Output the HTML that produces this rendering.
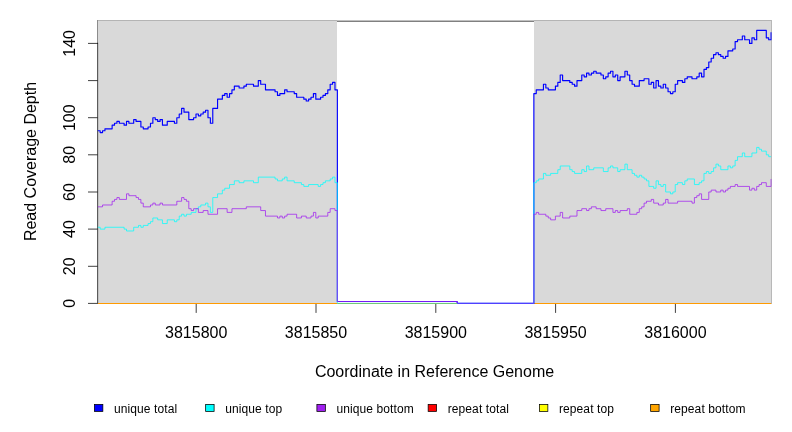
<!DOCTYPE html>
<html><head><meta charset="utf-8">
<style>
html,body{margin:0;padding:0;background:#fff;}
body{width:792px;height:432px;overflow:hidden;font-family:"Liberation Sans",sans-serif;}
svg{display:block;position:absolute;left:0;top:0}
svg.ov{will-change:transform}
text{font-family:"Liberation Sans",sans-serif;fill:#000}
</style></head><body>
<svg width="792" height="432" viewBox="0 0 792 432">
<defs><clipPath id="pc"><rect x="97" y="20" width="674.8" height="284"/></clipPath></defs>
<rect x="0" y="0" width="792" height="432" fill="#fff"/>
<!-- grey backgrounds -->
<rect x="98" y="21" width="239" height="282.4" fill="#d9d9d9"/>
<rect x="534" y="21" width="237" height="282.4" fill="#d9d9d9"/>
<!-- box -->
<rect x="97" y="20" width="675" height="1" fill="#b4b4b4"/>
<rect x="337" y="20" width="197" height="1" fill="#c0c0c0"/>
<rect x="337" y="21" width="197" height="1" fill="#808080"/>
<rect x="771" y="20" width="1" height="284" fill="#b8b8b8"/>
<rect x="97" y="20" width="1" height="24" fill="#8c8c8c"/>
<!-- axes -->
<g stroke="#000" stroke-width="0.75" fill="none">
<path d="M97.65 303.8V42.8"/>
<path d="M88 303.4H97.6M88 266.3H97.6M88 229.1H97.6M88 192.0H97.6M88 154.8H97.6M88 117.7H97.6M88 80.6H97.6M88 43.4H97.6"/>
<path d="M196.2 303.4V312.9M316.0 303.4V312.9M435.8 303.4V312.9M555.6 303.4V312.9M675.4 303.4V312.9"/>
</g>
<!-- CURVES -->
<g id="curves" fill="none" stroke-linejoin="round" stroke-linecap="butt" clip-path="url(#pc)">
<rect x="98" y="303" width="673.3" height="1" fill="#ff9a00"/>
<path d="M97.75 130.7H100.15V132.56H102.54V130.7H104.94V128.84H112.13V125.13H114.52V123.27H116.92V121.41H119.32V123.27H124.11V125.13H126.5V121.41H128.9V123.27H133.69V119.56H136.09V121.41H140.88V126.98H143.28V128.84H148.07V126.98H150.47V123.27H152.86V117.7H155.26V119.56H157.66V121.41H160.05V119.56H162.45V125.13H167.24V121.41H174.43V123.27H176.82V117.7H179.22V113.99H181.62V108.41H184.01V112.13H188.81V119.56H193.6V117.7H195.99V113.99H198.39V115.84H200.79V113.99H203.18V112.13H205.58V110.27H207.98V117.7H210.37V123.27H212.77V108.41H217.56V99.13H222.35V95.42H224.75V93.56H227.14V97.27H229.54V93.56H231.94V89.84H234.33V86.13H239.13V87.99H243.92V86.13H246.31V84.27H253.5V86.13H258.3V80.56H260.69V84.27H265.48V89.84H275.07V91.7H277.47V95.42H279.86V93.56H284.65V89.84H287.05V91.7H294.24V93.56H296.63V97.27H303.82V99.13H306.22V100.99H308.62V99.13H311.01V97.27H313.41V93.56H315.8V99.13H320.6V97.27H322.99V95.42H325.39V93.56H327.79V89.84H330.18V84.27H332.58V82.42H334.97V89.84H337.37V301.54H457.18V303.4H533.86V93.56H536.25V89.84H543.44V84.27H545.84V87.99H548.24V89.84H555.42V86.13H557.82V82.42H560.22V74.99H562.61V80.56H569.8V82.42H572.2V84.27H574.59V86.13H576.99V80.56H581.78V74.99H584.18V76.85H586.57V73.13H588.97V74.99H591.37V73.13H593.76V71.27H596.16V73.13H600.95V74.99H603.35V78.7H605.74V76.85H608.14V73.13H610.54V71.27H612.93V76.85H615.33V74.99H617.73V80.56H620.12V76.85H624.91V71.27H627.31V74.99H629.71V80.56H632.1V84.27H634.5V86.13H639.29V80.56H644.08V78.7H648.88V84.27H651.27V82.42H653.67V87.99H656.06V80.56H658.46V86.13H660.86V87.99H663.25V84.27H665.65V87.99H668.05V91.7H670.44V93.56H672.84V91.7H675.23V84.27H677.63V80.56H682.42V82.42H684.82V78.7H687.22V76.85H692.01V78.7H696.8V76.85H699.2V73.13H701.59V76.85H703.99V69.42H706.38V67.56H708.78V61.99H711.18V58.28H713.57V54.56H715.97V52.7H718.37V54.56H720.76V56.42H723.16V58.28H725.55V56.42H727.95V50.85H732.74V48.99H735.14V41.56H737.54V39.71H742.33V35.99H744.72V39.71H749.52V43.42H751.91V37.85H754.31V39.71H756.7V30.42H766.29V37.85H768.69V39.71H771.08V32.28H771.08" stroke="#0000ff" stroke-width="1.15"/>
<path d="M97.75 227.26H100.15V229.12H104.94V227.26H124.11V229.12H126.5V230.98H133.69V227.26H138.49V225.41H140.88V227.26H143.28V225.41H148.07V223.55H150.47V221.69H152.86V217.98H157.66V219.83H162.45V223.55H167.24V219.83H174.43V221.69H176.82V219.83H179.22V216.12H181.62V214.26H184.01V216.12H186.41V214.26H191.2V212.41H195.99V208.69H198.39V206.84H200.79V204.98H205.58V203.12H207.98V206.84H210.37V212.41H212.77V197.55H217.56V193.84H222.35V190.12H224.75V188.27H229.54V184.55H234.33V180.84H239.13V182.69H243.92V180.84H253.5V182.69H258.3V177.12H275.07V178.98H277.47V180.84H282.26V178.98H284.65V177.12H287.05V180.84H294.24V182.69H301.43V184.55H303.82V186.41H308.62V184.55H318.2V186.41H320.6V184.55H322.99V182.69H325.39V180.84H330.18V178.98H332.58V177.12H334.97V182.69H337.37V303.4H533.86V182.69H536.25V180.84H538.65V178.98H543.44V173.41H545.84V175.27H550.63V173.41H557.82V169.7H560.22V165.98H569.8V169.7H572.2V171.55H574.59V173.41H581.78V169.7H584.18V171.55H586.57V165.98H588.97V169.7H593.76V167.84H603.35V171.55H608.14V167.84H610.54V165.98H612.93V167.84H617.73V171.55H620.12V169.7H624.91V164.12H627.31V169.7H632.1V173.41H634.5V175.27H636.89V177.12H639.29V175.27H641.69V177.12H644.08V178.98H646.48V180.84H648.88V186.41H653.67V188.27H656.06V180.84H658.46V184.55H660.86V186.41H663.25V184.55H665.65V191.98H670.44V193.84H672.84V191.98H675.23V184.55H677.63V182.69H682.42V184.55H684.82V180.84H687.22V178.98H694.4V184.55H699.2V182.69H701.59V180.84H703.99V173.41H706.38V171.55H708.78V173.41H711.18V171.55H713.57V167.84H715.97V164.12H718.37V165.98H720.76V169.7H727.95V165.98H730.35V167.84H732.74V165.98H735.14V160.41H737.54V156.7H742.33V152.98H744.72V156.7H751.91V152.98H756.7V147.41H759.1V149.27H761.5V151.13H766.29V154.84H768.69V156.7H771.08" stroke="#00ffff" stroke-width="0.75"/>
<path d="M97.75 206.84H102.54V204.98H112.13V201.26H114.52V199.41H116.92V197.55H119.32V199.41H126.5V193.84H128.9V195.69H136.09V197.55H138.49V199.41H140.88V203.12H143.28V206.84H150.47V204.98H152.86V203.12H155.26V204.98H160.05V203.12H162.45V204.98H176.82V201.26H181.62V197.55H184.01V199.41H186.41V201.26H188.81V208.69H191.2V210.55H193.6V208.69H198.39V212.41H203.18V210.55H207.98V214.26H217.56V208.69H227.14V212.41H231.94V208.69H246.31V206.84H260.69V210.55H265.48V216.12H277.47V217.98H279.86V216.12H282.26V217.98H284.65V216.12H287.05V214.26H296.63V217.98H301.43V216.12H306.22V217.98H311.01V216.12H313.41V212.41H315.8V217.98H318.2V216.12H327.79V212.41H330.18V208.69H334.97V210.55H337.37V301.54H457.18V303.4H533.86V214.26H536.25V212.41H538.65V214.26H545.84V216.12H548.24V217.98H550.63V219.83H555.42V216.12H560.22V212.41H562.61V217.98H569.8V216.12H576.99V210.55H581.78V208.69H586.57V210.55H588.97V208.69H591.37V206.84H596.16V208.69H600.95V210.55H605.74V208.69H612.93V212.41H615.33V210.55H617.73V212.41H620.12V210.55H627.31V208.69H629.71V214.26H636.89V212.41H639.29V208.69H641.69V206.84H644.08V203.12H646.48V201.26H651.27V199.41H653.67V203.12H658.46V204.98H663.25V203.12H665.65V199.41H668.05V203.12H677.63V201.26H692.01V203.12H694.4V197.55H696.8V195.69H699.2V193.84H701.59V199.41H708.78V191.98H711.18V190.12H715.97V191.98H720.76V190.12H723.16V191.98H725.55V190.12H727.95V188.27H730.35V186.41H735.14V184.55H737.54V186.41H749.52V190.12H751.91V188.27H754.31V190.12H756.7V186.41H759.1V184.55H761.5V182.69H766.29V186.41H771.08V178.98H771.08" stroke="#a020f0" stroke-width="0.75"/>
<rect x="338" y="303" width="119.25" height="1" fill="#70c878"/>
<rect x="457.25" y="303" width="76.2" height="1" fill="#5040ff"/>
</g>
<!-- legend -->
<g>
<rect x="94.40" y="404.4" width="8.45" height="7" fill="#0000ff" stroke="#000" stroke-width="0.75"/>
<rect x="205.65" y="404.4" width="8.45" height="7" fill="#00ffff" stroke="#000" stroke-width="0.75"/>
<rect x="316.90" y="404.4" width="8.45" height="7" fill="#a020f0" stroke="#000" stroke-width="0.75"/>
<rect x="428.15" y="404.4" width="8.45" height="7" fill="#ff0000" stroke="#000" stroke-width="0.75"/>
<rect x="539.40" y="404.4" width="8.45" height="7" fill="#ffff00" stroke="#000" stroke-width="0.75"/>
<rect x="650.65" y="404.4" width="8.45" height="7" fill="#ffa500" stroke="#000" stroke-width="0.75"/>
</g>
</svg>
<svg class="ov" width="792" height="432" viewBox="0 0 792 432">
<!-- x labels -->
<g font-size="16" text-anchor="middle">
<text x="196.2" y="338">3815800</text>
<text x="316.0" y="338">3815850</text>
<text x="435.8" y="338">3815900</text>
<text x="555.6" y="338">3815950</text>
<text x="675.4" y="338">3816000</text>
<text x="434.5" y="377">Coordinate in Reference Genome</text>
</g>
<g font-size="16" text-anchor="middle">
<text transform="translate(74.5,303.4) rotate(-90)">0</text>
<text transform="translate(74.5,266.3) rotate(-90)">20</text>
<text transform="translate(74.5,229.1) rotate(-90)">40</text>
<text transform="translate(74.5,192.0) rotate(-90)">60</text>
<text transform="translate(74.5,154.8) rotate(-90)">80</text>
<text transform="translate(74.5,117.7) rotate(-90)">100</text>
<text transform="translate(74.5,43.4) rotate(-90)">140</text>
<text transform="translate(36,161.5) rotate(-90)">Read Coverage Depth</text>
</g>
<g font-size="12" letter-spacing="0.1">
<text x="113.95" y="412.9">unique total</text>
<text x="225.20" y="412.9">unique top</text>
<text x="336.45" y="412.9">unique bottom</text>
<text x="447.70" y="412.9">repeat total</text>
<text x="558.95" y="412.9">repeat top</text>
<text x="670.20" y="412.9">repeat bottom</text>
</g>
</svg>
</body></html>
